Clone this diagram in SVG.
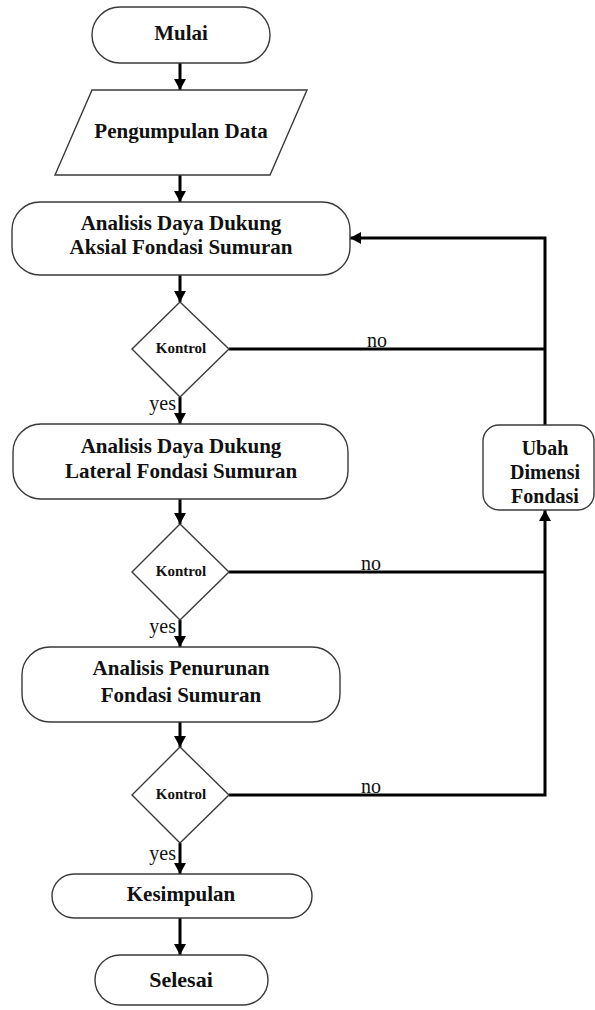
<svg xmlns="http://www.w3.org/2000/svg" width="595" height="1010" viewBox="0 0 595 1010">
<style>
.shape{fill:#fff;stroke:#3a3a3a;stroke-width:1.4}
.t{font-family:"Liberation Serif","Times New Roman",serif;font-weight:bold;fill:#111;text-anchor:middle}
.big{font-size:21px}
.k{font-size:15px}
.lbl{font-family:"Liberation Serif","Times New Roman",serif;font-size:20px;fill:#111}
.c{stroke:#000;stroke-width:3;fill:none}
</style>
<defs>
<marker id="ah" markerUnits="userSpaceOnUse" markerWidth="12" markerHeight="12" refX="11" refY="6" orient="auto">
<path d="M0,0 L11,6 L0,12 Z" fill="#000"/>
</marker>
</defs>
<rect width="595" height="1010" fill="#fff"/>
<g id="connectors">
<line class="c" x1="180" y1="63" x2="180" y2="90" marker-end="url(#ah)"/>
<line class="c" x1="180" y1="175" x2="180" y2="202" marker-end="url(#ah)"/>
<line class="c" x1="180" y1="275" x2="180" y2="302" marker-end="url(#ah)"/>
<line class="c" x1="180" y1="397" x2="180" y2="424" marker-end="url(#ah)"/>
<line class="c" x1="180" y1="499" x2="180" y2="524" marker-end="url(#ah)"/>
<line class="c" x1="180" y1="620" x2="180" y2="647" marker-end="url(#ah)"/>
<line class="c" x1="180" y1="722" x2="180" y2="747" marker-end="url(#ah)"/>
<line class="c" x1="180" y1="843" x2="180" y2="874" marker-end="url(#ah)"/>
<line class="c" x1="180" y1="918" x2="180" y2="955" marker-end="url(#ah)"/>
<line class="c" x1="229" y1="349" x2="545" y2="349"/>
<line class="c" x1="229" y1="572" x2="545" y2="572"/>
<polyline class="c" points="229,795 545,795 545,510" marker-end="url(#ah)"/>
<polyline class="c" points="545,425 545,238 350,238" marker-end="url(#ah)"/>
<text class="lbl" x="377" y="347" text-anchor="middle">no</text>
<text class="lbl" x="371" y="570" text-anchor="middle">no</text>
<text class="lbl" x="371" y="793" text-anchor="middle">no</text>
<text class="lbl" x="176" y="410" text-anchor="end">yes</text>
<text class="lbl" x="176" y="633" text-anchor="end">yes</text>
<text class="lbl" x="176" y="860" text-anchor="end">yes</text>
</g>
<g id="mulai">
<rect class="shape" x="92" y="7" width="178" height="56" rx="28"/>
<text class="t big" x="181" y="40">Mulai</text>
</g>
<g id="pengumpulan">
<polygon class="shape" points="92,90 307,90 270,175 55,175"/>
<text class="t big" x="181" y="138">Pengumpulan Data</text>
</g>
<g id="aksial">
<rect class="shape" x="12" y="202" width="338" height="73" rx="28"/>
<text class="t big" x="181" y="230">Analisis Daya Dukung</text>
<text class="t big" x="181" y="254">Aksial Fondasi Sumuran</text>
</g>
<g id="kontrol1">
<polygon class="shape" points="180,302 229,349 180,397 132,349"/>
<text class="t k" x="181" y="353">Kontrol</text>
</g>
<g id="lateral">
<rect class="shape" x="13" y="424" width="335" height="75" rx="28"/>
<text class="t big" x="181" y="453">Analisis Daya Dukung</text>
<text class="t big" x="181" y="478">Lateral Fondasi Sumuran</text>
</g>
<g id="kontrol2">
<polygon class="shape" points="180,524 229,572 180,620 132,572"/>
<text class="t k" x="181" y="576">Kontrol</text>
</g>
<g id="penurunan">
<rect class="shape" x="22" y="647" width="318" height="75" rx="28"/>
<text class="t big" x="181" y="675">Analisis Penurunan</text>
<text class="t big" x="181" y="702">Fondasi Sumuran</text>
</g>
<g id="kontrol3">
<polygon class="shape" points="180,747 229,795 180,843 132,795"/>
<text class="t k" x="181" y="799">Kontrol</text>
</g>
<g id="ubah">
<rect class="shape" x="483" y="425" width="111" height="85" rx="16"/>
<text class="t" font-size="20" x="545" y="455">Ubah</text>
<text class="t" font-size="20" x="545" y="479">Dimensi</text>
<text class="t" font-size="20" x="545" y="503">Fondasi</text>
</g>
<g id="kesimpulan">
<rect class="shape" x="52" y="874" width="260" height="44" rx="22"/>
<text class="t big" x="181" y="901">Kesimpulan</text>
</g>
<g id="selesai">
<rect class="shape" x="95" y="955" width="173" height="50" rx="25"/>
<text class="t" font-size="22" x="181" y="987">Selesai</text>
</g>
</svg>
